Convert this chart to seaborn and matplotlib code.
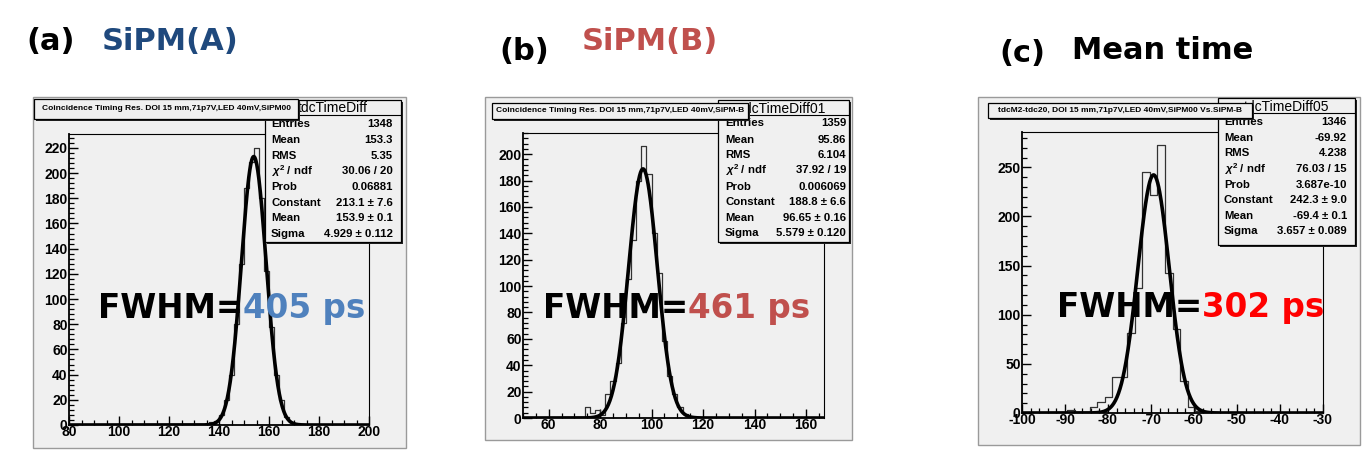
import numpy as np
import pandas as pd
import matplotlib
matplotlib.use("Agg")
import matplotlib.pyplot as plt
from matplotlib.patches import Rectangle
from matplotlib.ticker import MultipleLocator
import seaborn as sns

sns.set_style("ticks")
plt.rcParams['font.family'] = ['Liberation Sans', 'DejaVu Sans']
plt.rcParams['font.weight'] = 'bold'
plt.rcParams['text.color'] = 'black'
plt.rcParams['xtick.color'] = 'black'
plt.rcParams['ytick.color'] = 'black'
plt.rcParams['xtick.labelcolor'] = 'black'
plt.rcParams['ytick.labelcolor'] = 'black'
plt.rcParams['axes.unicode_minus'] = False
plt.rcParams['mathtext.fontset'] = 'custom'
plt.rcParams['mathtext.rm'] = 'Liberation Sans:bold'
plt.rcParams['mathtext.it'] = 'Liberation Sans:italic:bold'

W, H = 1362, 453
GREY = "#f0f0f0"

# ---------------- data ----------------
# panel (a) SiPM(A)
a_bin_start, a_bin_width = 130.0, 2.0
a_counts = [0, 0, 1, 2, 3, 8, 20, 40, 80, 128, 188, 209, 220, 180, 122, 78, 40, 20, 6, 2, 1, 0]
a_fit = dict(const=213.1, mean=153.9, sigma=4.929)
a_xlim, a_ylim = (80, 200), (0, 231)

# panel (b) SiPM(B)
b_bin_start, b_bin_width = 70.0, 2.0
b_counts = [0, 0, 8, 4, 6, 2, 18, 28, 42, 72, 105, 135, 180, 206, 185, 140, 110, 58, 32, 18, 8, 3, 1]
b_fit = dict(const=188.8, mean=96.65, sigma=5.579)
b_xlim, b_ylim = (50, 167), (0, 216)

# panel (c) Mean time
c_bin_start, c_bin_width = -91.25, 1.75
c_counts = [0, 3, 1, 1, 6, 11, 16, 37, 37, 81, 127, 245, 222, 273, 142, 86, 33, 6, 2, 1, 1]
c_fit = dict(const=242.3, mean=-69.4, sigma=3.657)
c_xlim, c_ylim = (-100, -30), (0, 286)

titles = ["Coincidence Timing Res. DOI 15 mm,71p7V,LED 40mV,SiPM00",
          "Coincidence Timing Res. DOI 15 mm,71p7V,LED 40mV,SiPM-B",
          "tdcM2-tdc20, DOI 15 mm,71p7V,LED 40mV,SiPM00 Vs.SiPM-B"]
hist_names = ["tdcTimeDiff", "tdcTimeDiff01", "tdcTimeDiff05"]
stat_labels = ["Entries", "Mean", "RMS", r"$\chi^{2}$ / ndf", "Prob", "Constant", "Mean", "Sigma"]
a_stats = ["1348", "153.3", "5.35", "30.06 / 20", "0.06881", "213.1 ± 7.6", "153.9 ± 0.1", "4.929 ± 0.112"]
b_stats = ["1359", "95.86", "6.104", "37.92 / 19", "0.006069", "188.8 ± 6.6", "96.65 ± 0.16", "5.579 ± 0.120"]
c_stats = ["1346", "-69.92", "4.238", "76.03 / 15", "3.687e-10", "242.3 ± 9.0", "-69.4 ± 0.1", "3.657 ± 0.089"]
headers = [("(a)", "SiPM(A)", "#1f497d"), ("(b)", "SiPM(B)", "#c0504d"), ("(c)", "Mean time", "#000000")]
fwhm_values = [("405 ps", "#4f81bd"), ("461 ps", "#c0504d"), ("302 ps", "#ff0000")]

# ---------------- layout (pixels) ----------------
panels = [
    dict(counts=a_counts, start=a_bin_start, bw=a_bin_width, fit=a_fit, xlim=a_xlim, ylim=a_ylim,
         stats=a_stats, canvas=(33, 97, 406, 448), frame=(69, 134, 369, 425),
         title_box=(34, 99, 298, 119), stats_box=(265, 100, 401, 242), header_y=108,
         rows_y=[124, 140, 156, 171, 187, 203, 218, 234], lab_x=271, val_x=393,
         xmaj=20, xmin=5, ymaj=20, ymin=4, fwhm=(98, 318), head=((26, 50), (102, 50))),
    dict(counts=b_counts, start=b_bin_start, bw=b_bin_width, fit=b_fit, xlim=b_xlim, ylim=b_ylim,
         stats=b_stats, canvas=(485, 97, 852, 440), frame=(523, 133, 824, 418),
         title_box=(492, 103, 748, 119), stats_box=(718, 100, 849, 242), header_y=109,
         rows_y=[123, 140, 155, 170, 187, 202, 218, 233], lab_x=725, val_x=846,
         xmaj=20, xmin=5, ymaj=20, ymin=4, fwhm=(543, 318), head=((499, 60), (582, 50))),
    dict(counts=c_counts, start=c_bin_start, bw=c_bin_width, fit=c_fit, xlim=c_xlim, ylim=c_ylim,
         stats=c_stats, canvas=(978, 97, 1360, 445), frame=(1022, 132, 1323, 413),
         title_box=(988, 103, 1252, 118), stats_box=(1218, 98, 1355, 245), header_y=107,
         rows_y=[122, 138, 153, 169, 185, 200, 216, 231], lab_x=1224, val_x=1347,
         xmaj=10, xmin=2, ymaj=50, ymin=10, fwhm=(1057, 317), head=((999, 62), (1072, 59))),
]

fig = plt.figure(figsize=(W / 100, H / 100), dpi=100)
fig.patch.set_facecolor("white")


def fx(x):
    return x / W


def fy(y):
    return 1 - y / H


def box(x0, y0, x1, y1, z, shadow=2, lw=0.9):
    if shadow:
        fig.add_artist(Rectangle((fx(x0 + shadow), fy(y1 + shadow)), fx(x1 - x0), (y1 - y0) / H,
                                 transform=fig.transFigure, facecolor="#222222", edgecolor="none", zorder=z))
    fig.add_artist(Rectangle((fx(x0), fy(y1)), fx(x1 - x0), (y1 - y0) / H,
                             transform=fig.transFigure, facecolor=GREY, edgecolor="black", lw=lw, zorder=z + 0.1))


for i, p in enumerate(panels):
    # canvas
    cx0, cy0, cx1, cy1 = p["canvas"]
    fig.add_artist(Rectangle((fx(cx0), fy(cy1)), fx(cx1 - cx0), (cy1 - cy0) / H, transform=fig.transFigure,
                             facecolor=GREY, edgecolor="#9a9a9a", lw=1.0, zorder=-5))
    x0, y0, x1, y1 = p["frame"]
    ax = fig.add_axes([fx(x0), fy(y1), fx(x1 - x0), (y1 - y0) / H])
    ax.set_facecolor(GREY)
    n = len(p["counts"])
    edges = [p["start"] + p["bw"] * k for k in range(n + 1)]
    centers = [(edges[k] + edges[k + 1]) / 2 for k in range(n)]
    df = pd.DataFrame({"x": centers, "w": p["counts"]})
    sns.histplot(data=df, x="x", weights="w", bins=edges, element="step", fill=False,
                 color="#333333", linewidth=0.9, ax=ax)
    f = p["fit"]
    xs = np.linspace(p["xlim"][0], p["xlim"][1], 600)
    ys = f["const"] * np.exp(-0.5 * ((xs - f["mean"]) / f["sigma"]) ** 2)
    sns.lineplot(x=xs, y=ys, color="black", linewidth=2.6, ax=ax)
    ax.set_xlim(*p["xlim"])
    ax.set_ylim(*p["ylim"])
    ax.set_xlabel("")
    ax.set_ylabel("")
    ax.xaxis.set_major_locator(MultipleLocator(p["xmaj"]))
    ax.xaxis.set_minor_locator(MultipleLocator(p["xmin"]))
    ax.yaxis.set_major_locator(MultipleLocator(p["ymaj"]))
    ax.yaxis.set_minor_locator(MultipleLocator(p["ymin"]))
    ax.tick_params(which="both", direction="in", top=False, right=False, color="black",
                   labelcolor="black")
    ax.tick_params(which="major", length=6.5, width=1.0, labelsize=10, pad=1)
    ax.tick_params(which="minor", length=3.3, width=0.9)
    ax.tick_params(axis="x", which="major", pad=0)
    for s in ["left", "bottom"]:
        ax.spines[s].set_linewidth(1.3)
    for s in ["top", "right"]:
        ax.spines[s].set_linewidth(0.8)
    for s in ax.spines.values():
        s.set_color("black")
    ax.set_zorder(0)

    # stats box
    sx0, sy0, sx1, sy1 = p["stats_box"]
    box(sx0, sy0, sx1, sy1, z=2, shadow=2)
    fig.add_artist(plt.Line2D([fx(sx0), fx(sx1)], [fy(sy0 + 15), fy(sy0 + 15)], transform=fig.transFigure,
                              color="black", lw=0.8, zorder=2.3))
    fig.text(fx((sx0 + sx1) / 2), fy(p["header_y"]), hist_names[i], ha="center", va="center",
             fontsize=10, fontweight="normal", color="black", zorder=2.5)
    for lab, val, yy in zip(stat_labels, p["stats"], p["rows_y"]):
        fig.text(fx(p["lab_x"]), fy(yy), lab, ha="left", va="center", fontsize=8.2,
                 fontweight="bold", color="black", zorder=2.5)
        fig.text(fx(p["val_x"]), fy(yy), val, ha="right", va="center", fontsize=8.2,
                 fontweight="bold", color="black", zorder=2.5)

    # title box
    tx0, ty0, tx1, ty1 = p["title_box"]
    box(tx0, ty0, tx1, ty1, z=4, shadow=2)
    fig.text(fx((tx0 + tx1) / 2), fy((ty0 + ty1) / 2), titles[i], ha="center", va="center",
             fontsize=6.0, fontweight="bold", color="black", zorder=4.5)

fig.canvas.draw()
renderer = fig.canvas.get_renderer()
big = ['DejaVu Sans']
for i, p in enumerate(panels):
    bx, by = p["fwhm"]
    t1 = fig.text(fx(bx), fy(by), "FWHM=", ha="left", va="baseline", fontsize=23.5, fontweight="bold",
                  family=big, color="black", zorder=8)
    bb = t1.get_window_extent(renderer)
    val, col = fwhm_values[i]
    fig.text(bb.x1 / fig.bbox.width, fy(by), val, ha="left", va="baseline", fontsize=23.5,
             fontweight="bold", family=big, color=col, zorder=8)
    (hx1, hy1), (hx2, hy2) = p["head"]
    lab, name, col = headers[i]
    fig.text(fx(hx1), fy(hy1), lab, ha="left", va="baseline", fontsize=22, fontweight="bold",
             family=big, color="black")
    fig.text(fx(hx2), fy(hy2), name, ha="left", va="baseline", fontsize=22, fontweight="bold",
             family=big, color=col)

fig.savefig("out.png", dpi=100, facecolor="white")
